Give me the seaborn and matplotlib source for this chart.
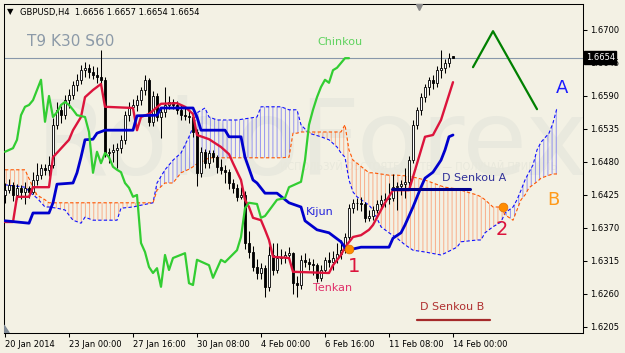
import numpy as np
import pandas as pd
import matplotlib
matplotlib.use("Agg")
import matplotlib.pyplot as plt
from matplotlib.patches import Polygon
import seaborn as sns

# =========================
# Data (GBPUSD H4)
# =========================
bar_open = [1.6425, 1.6433, 1.6442, 1.6425, 1.6437, 1.6430, 1.6437, 1.6430, 1.6450, 1.6458,
            1.6470, 1.6467, 1.6475, 1.6542, 1.6567, 1.6558, 1.6583, 1.6592, 1.6608, 1.6617,
            1.6633, 1.6637, 1.6630, 1.6625, 1.6622, 1.6617, 1.6495, 1.6497, 1.6500, 1.6503,
            1.6517, 1.6558, 1.6572, 1.6575, 1.6583, 1.6600, 1.6617, 1.6547, 1.6590, 1.6555,
            1.6563, 1.6575, 1.6580, 1.6575, 1.6567, 1.6558, 1.6556, 1.6555, 1.6530, 1.6462,
            1.6497, 1.6478, 1.6495, 1.6488, 1.6472, 1.6467, 1.6463, 1.6445, 1.6437, 1.6422,
            1.6425, 1.6345, 1.6330, 1.6305, 1.6295, 1.6303, 1.6272, 1.6325, 1.6300, 1.6320,
            1.6322, 1.6325, 1.6328, 1.6278, 1.6275, 1.6317, 1.6313, 1.6310, 1.6308, 1.6287,
            1.6300, 1.6317, 1.6313, 1.6320, 1.6327, 1.6333, 1.6355, 1.6403, 1.6412, 1.6411,
            1.6410, 1.6387, 1.6390, 1.6400, 1.6410, 1.6417, 1.6418, 1.6420, 1.6438, 1.6440,
            1.6443, 1.6447, 1.6483, 1.6542, 1.6567, 1.6588, 1.6605, 1.6617, 1.6612, 1.6633,
            1.6637, 1.6645, 1.6656]
bar_high = [1.6445, 1.6452, 1.6447, 1.6443, 1.6441, 1.6446, 1.6440, 1.6463, 1.6478, 1.6476,
            1.6477, 1.6490, 1.6553, 1.6580, 1.6573, 1.6592, 1.6602, 1.6615, 1.6626, 1.6642,
            1.6646, 1.6643, 1.6640, 1.6638, 1.6667, 1.6621, 1.6503, 1.6510, 1.6512, 1.6525,
            1.6565, 1.6580, 1.6585, 1.6592, 1.6605, 1.6625, 1.6620, 1.6598, 1.6595, 1.6572,
            1.6605, 1.6590, 1.6585, 1.6582, 1.6575, 1.6572, 1.6565, 1.6560, 1.6535, 1.6505,
            1.6502, 1.6500, 1.6500, 1.6492, 1.6485, 1.6475, 1.6468, 1.6452, 1.6443, 1.6438,
            1.6432, 1.6365, 1.6340, 1.6318, 1.6312, 1.6308, 1.6340, 1.6345, 1.6345, 1.6335,
            1.6332, 1.6338, 1.6330, 1.6290, 1.6325, 1.6328, 1.6320, 1.6318, 1.6312, 1.6308,
            1.6322, 1.6330, 1.6332, 1.6345, 1.6350, 1.6362, 1.6410, 1.6418, 1.6420, 1.6422,
            1.6414, 1.6400, 1.6406, 1.6416, 1.6425, 1.6428, 1.6445, 1.6460, 1.6446, 1.6450,
            1.6470, 1.6490, 1.6550, 1.6572, 1.6595, 1.6610, 1.6622, 1.6625, 1.6640, 1.6667,
            1.6652, 1.6662, 1.6657]
bar_low = [1.6412, 1.6428, 1.6415, 1.6418, 1.6418, 1.6410, 1.6420, 1.6427, 1.6442, 1.6452,
           1.6458, 1.6456, 1.6470, 1.6535, 1.6545, 1.6552, 1.6570, 1.6585, 1.6598, 1.6610,
           1.6622, 1.6620, 1.6618, 1.6612, 1.6610, 1.6488, 1.6478, 1.6480, 1.6470, 1.6495,
           1.6510, 1.6548, 1.6560, 1.6565, 1.6575, 1.6592, 1.6540, 1.6540, 1.6548, 1.6520,
           1.6555, 1.6568, 1.6568, 1.6560, 1.6550, 1.6550, 1.6545, 1.6522, 1.6440, 1.6455,
           1.6470, 1.6470, 1.6480, 1.6462, 1.6460, 1.6445, 1.6435, 1.6428, 1.6415, 1.6418,
           1.6335, 1.6320, 1.6298, 1.6285, 1.6285, 1.6255, 1.6265, 1.6292, 1.6295, 1.6310,
           1.6312, 1.6318, 1.6260, 1.6255, 1.6268, 1.6305, 1.6300, 1.6292, 1.6280, 1.6282,
           1.6295, 1.6305, 1.6300, 1.6312, 1.6318, 1.6328, 1.6350, 1.6395, 1.6400, 1.6398,
           1.6380, 1.6382, 1.6384, 1.6395, 1.6402, 1.6405, 1.6410, 1.6415, 1.6400, 1.6425,
           1.6420, 1.6440, 1.6478, 1.6535, 1.6558, 1.6580, 1.6592, 1.6602, 1.6605, 1.6620,
           1.6628, 1.6638, 1.6654]
bar_close = [1.6433, 1.6442, 1.6425, 1.6437, 1.6430, 1.6437, 1.6430, 1.6450, 1.6458, 1.6470,
             1.6467, 1.6475, 1.6542, 1.6567, 1.6558, 1.6583, 1.6592, 1.6608, 1.6617, 1.6633,
             1.6637, 1.6630, 1.6625, 1.6622, 1.6617, 1.6495, 1.6497, 1.6500, 1.6503, 1.6517,
             1.6558, 1.6572, 1.6575, 1.6583, 1.6600, 1.6617, 1.6547, 1.6590, 1.6555, 1.6563,
             1.6575, 1.6580, 1.6575, 1.6567, 1.6558, 1.6556, 1.6555, 1.6530, 1.6462, 1.6497,
             1.6478, 1.6495, 1.6488, 1.6472, 1.6467, 1.6463, 1.6445, 1.6437, 1.6422, 1.6425,
             1.6345, 1.6330, 1.6305, 1.6295, 1.6303, 1.6272, 1.6325, 1.6300, 1.6320, 1.6322,
             1.6325, 1.6328, 1.6278, 1.6275, 1.6317, 1.6313, 1.6310, 1.6308, 1.6287, 1.6300,
             1.6317, 1.6313, 1.6320, 1.6327, 1.6333, 1.6355, 1.6403, 1.6412, 1.6411, 1.6410,
             1.6387, 1.6390, 1.6400, 1.6410, 1.6417, 1.6418, 1.6420, 1.6438, 1.6440, 1.6443,
             1.6447, 1.6483, 1.6542, 1.6567, 1.6588, 1.6605, 1.6617, 1.6612, 1.6633, 1.6637,
             1.6645, 1.6653, 1.6654]

# Ichimoku lines (bar index, price at the line's corners)
tenkan_bar = [0, 2, 3, 6, 7, 11, 12, 16, 17, 19, 20, 22, 24, 25, 32, 33, 34, 36, 39, 43, 45,
              47, 48, 51, 54, 56, 57, 59, 60, 61, 62, 64, 65, 66, 67, 71, 72, 81, 82, 84, 85,
              87, 89, 91, 92, 94, 95, 97, 101, 102, 105, 107, 109, 112]
tenkan_val = [1.6380, 1.6380, 1.6422, 1.6422, 1.6438, 1.6438, 1.6488, 1.6517, 1.6533, 1.6555,
              1.6588, 1.6600, 1.6610, 1.6572, 1.6570, 1.6533, 1.6555, 1.6560, 1.6577, 1.6578,
              1.6572, 1.6560, 1.6525, 1.6518, 1.6505, 1.6493, 1.6478, 1.6450, 1.6417, 1.6405,
              1.6387, 1.6383, 1.6367, 1.6350, 1.6322, 1.6320, 1.6297, 1.6295, 1.6308, 1.6325,
              1.6338, 1.6355, 1.6358, 1.6367, 1.6375, 1.6400, 1.6412, 1.6433, 1.6433, 1.6455,
              1.6522, 1.6525, 1.6550, 1.6613]

kijun_bar = [0, 6, 7, 11, 12, 13, 17, 18, 19, 20, 22, 23, 25, 32, 33, 38, 39, 47, 48, 49, 55,
             56, 59, 60, 62, 63, 65, 68, 71, 74, 75, 77, 78, 81, 84, 85, 86, 87, 89, 96, 97, 99,
             100, 102, 104, 105, 107, 109, 110, 111, 112]
kijun_val = [1.6382, 1.6378, 1.6395, 1.6395, 1.6412, 1.6443, 1.6445, 1.6462, 1.6488, 1.6517,
             1.6518, 1.6528, 1.6533, 1.6533, 1.6557, 1.6558, 1.6570, 1.6570, 1.6555, 1.6533,
             1.6533, 1.6522, 1.6522, 1.6488, 1.6450, 1.6445, 1.6428, 1.6428, 1.6412, 1.6405,
             1.6382, 1.6372, 1.6367, 1.6362, 1.6347, 1.6337, 1.6330, 1.6335, 1.6338, 1.6338,
             1.6353, 1.6362, 1.6375, 1.6405, 1.6438, 1.6453, 1.6463, 1.6483, 1.6500, 1.6522,
             1.6525]

chinkou_bar = [0, 2, 3, 4, 5, 6, 7, 8, 9, 10, 11, 12, 13, 14, 15, 16, 17, 18, 20, 21, 22, 23,
               24, 25, 26, 27, 28, 29, 30, 31, 32, 33, 34, 35, 36, 37, 38, 39, 40, 41, 42, 45,
               46, 47, 48, 51, 52, 54, 55, 58, 59, 60, 61, 63, 64, 65, 68, 70, 71, 74, 75, 76,
               77, 78, 79, 80, 81, 82, 83, 84, 85, 86]
chinkou_val = [1.6497, 1.6503, 1.6517, 1.6558, 1.6572, 1.6575, 1.6583, 1.6600, 1.6617, 1.6547,
               1.6590, 1.6555, 1.6563, 1.6575, 1.6580, 1.6575, 1.6567, 1.6558, 1.6555, 1.6530,
               1.6462, 1.6497, 1.6478, 1.6495, 1.6488, 1.6472, 1.6467, 1.6463, 1.6445, 1.6437,
               1.6422, 1.6425, 1.6345, 1.6330, 1.6305, 1.6295, 1.6303, 1.6272, 1.6325, 1.6300,
               1.6320, 1.6328, 1.6278, 1.6275, 1.6317, 1.6308, 1.6287, 1.6317, 1.6313, 1.6333,
               1.6355, 1.6403, 1.6412, 1.6410, 1.6387, 1.6390, 1.6417, 1.6420, 1.6438, 1.6447,
               1.6483, 1.6542, 1.6567, 1.6588, 1.6605, 1.6617, 1.6612, 1.6633, 1.6637, 1.6645,
               1.6653, 1.6653]

# cloud: both spans read at the same bars (runs 26 bars ahead of price)
senkou_bar = [0, 5, 7, 8, 10, 11, 13, 15, 17, 19, 20, 22, 28, 29, 32, 34, 37, 38, 40, 42, 44,
              46, 47, 48, 50, 51, 53, 58, 63, 64, 69, 71, 72, 73, 74, 76, 79, 81, 83, 84, 85,
              86, 87, 88, 91, 92, 94, 96, 98, 100, 102, 105, 109, 110, 113, 114, 118, 119, 120,
              122, 124, 125, 127, 128, 129, 130, 131, 132, 133, 134, 136, 137, 138]
senkou_a = [1.6442, 1.6438, 1.6425, 1.6420, 1.6405, 1.6405, 1.6403, 1.6400, 1.6383, 1.6378,
            1.6388, 1.6383, 1.6383, 1.6403, 1.6405, 1.6408, 1.6412, 1.6445, 1.6467, 1.6483,
            1.6495, 1.6522, 1.6538, 1.6562, 1.6570, 1.6555, 1.6550, 1.6550, 1.6555, 1.6572,
            1.6572, 1.6567, 1.6567, 1.6567, 1.6542, 1.6528, 1.6522, 1.6517, 1.6505, 1.6495,
            1.6488, 1.6450, 1.6430, 1.6422, 1.6408, 1.6400, 1.6372, 1.6362, 1.6353, 1.6342,
            1.6333, 1.6330, 1.6325, 1.6328, 1.6338, 1.6347, 1.6350, 1.6350, 1.6362, 1.6372,
            1.6380, 1.6395, 1.6405, 1.6417, 1.6433, 1.6450, 1.6463, 1.6475, 1.6500, 1.6513,
            1.6528, 1.6545, 1.6570]
senkou_b = [1.6467, 1.6467, 1.6438, 1.6425, 1.6417, 1.6412, 1.6412, 1.6412, 1.6412, 1.6412,
            1.6412, 1.6412, 1.6412, 1.6412, 1.6412, 1.6412, 1.6412, 1.6433, 1.6445, 1.6445,
            1.6462, 1.6468, 1.6472, 1.6477, 1.6483, 1.6487, 1.6487, 1.6487, 1.6487, 1.6487,
            1.6487, 1.6488, 1.6528, 1.6528, 1.6530, 1.6530, 1.6530, 1.6530, 1.6530, 1.6530,
            1.6542, 1.6500, 1.6483, 1.6478, 1.6462, 1.6462, 1.6460, 1.6458, 1.6458, 1.6457,
            1.6455, 1.6450, 1.6440, 1.6438, 1.6435, 1.6433, 1.6425, 1.6422, 1.6417, 1.6405,
            1.6405, 1.6392, 1.6383, 1.6400, 1.6417, 1.6425, 1.6437, 1.6442, 1.6447, 1.6453,
            1.6458, 1.6460, 1.6460]

# analyst's drawings
zigzag_bar = [117, 122, 133]
zigzag_val = [1.6638, 1.6698, 1.6568]
signal_bar = [86, 124.5]
signal_val = [1.6335, 1.6405]
d_senkou_a = 1.6435
d_senkou_a_bars = [96.75, 116.25]
d_senkou_b = 1.6217
d_senkou_b_bars = [103, 121.25]

last_price = 1.6654
price_ticks = [1.6205, 1.6260, 1.6315, 1.6370, 1.6425, 1.6480, 1.6535, 1.6590, 1.6645, 1.6700]
time_tick_bars = [0, 16, 32, 48, 64, 80, 96, 112]
time_tick_labels = ["20 Jan 2014", "23 Jan 00:00", "27 Jan 16:00", "30 Jan 08:00",
                    "4 Feb 00:00", "6 Feb 16:00", "11 Feb 08:00", "14 Feb 00:00"]

# =========================
# Style
# =========================
sns.set_theme(style="white")
plt.rcParams["font.family"] = ["DejaVu Sans"]
plt.rcParams["hatch.linewidth"] = 0.7

bg = "#f3f1e4"
fig = plt.figure(figsize=(6.25, 3.53), dpi=100)
fig.patch.set_facecolor(bg)
ax = fig.add_axes([4 / 625, 20 / 353, 579 / 625, 329 / 353])
ax.set_facecolor(bg)

# watermark (very faint)
ax.text(0.054, 0.48, "RoboForex", transform=ax.transAxes, fontsize=76,
        color="#e9e9de", zorder=0.2, va="baseline", clip_on=True)
ax.text(0.477, 0.505, "ИСПОЛЬЗУЙ ОБСТОЯТЕЛЬСТВА — ПОЛУЧАЙ ПРИБЫЛЬ", transform=ax.transAxes,
        fontsize=7, color="#e8e8dc", zorder=0.2, va="center", clip_on=True)

# =========================
# Cloud
# =========================
cloud = pd.DataFrame({"bar": senkou_bar, "a": senkou_a, "b": senkou_b})
ax.fill_between(cloud["bar"], cloud["a"], cloud["b"], where=cloud["b"] >= cloud["a"],
                interpolate=True, facecolor="none", edgecolor="#ff6a30", hatch="||||",
                linewidth=0, alpha=0.5, zorder=1)
ax.fill_between(cloud["bar"], cloud["a"], cloud["b"], where=cloud["a"] > cloud["b"],
                interpolate=True, facecolor="none", edgecolor="#2020ff", hatch="||||",
                linewidth=0, alpha=0.45, zorder=1)
sns.lineplot(data=cloud, x="bar", y="a", ax=ax, color="#1010ff", lw=0.8,
             linestyle=(0, (3, 2)), sort=False, estimator=None, zorder=2)
sns.lineplot(data=cloud, x="bar", y="b", ax=ax, color="#ff5500", lw=0.8,
             linestyle=(0, (3, 2)), sort=False, estimator=None, zorder=2)

# =========================
# Candles
# =========================
bars = pd.DataFrame({"o": bar_open, "h": bar_high, "l": bar_low, "c": bar_close})
bars["bar"] = np.arange(len(bars))
up = bars["c"] >= bars["o"]
ax.vlines(bars["bar"], bars["l"], bars["h"], color="black", lw=0.75, zorder=3)
body_lo = bars[["o", "c"]].min(axis=1)
body_h = (bars["c"] - bars["o"]).abs().clip(lower=0.00008)
ax.bar(bars["bar"][up], body_h[up], bottom=body_lo[up], width=0.72, color="white",
       edgecolor="black", lw=0.6, zorder=3)
ax.bar(bars["bar"][~up], body_h[~up], bottom=body_lo[~up], width=0.72, color="black",
       edgecolor="black", lw=0.6, zorder=3)

# =========================
# Ichimoku lines
# =========================
lines = [
    (tenkan_bar, tenkan_val, "#dc143c", 1.7),
    (kijun_bar, kijun_val, "#0000cd", 2.0),
    (chinkou_bar, chinkou_val, "#32cd32", 1.6),
]
for xs, ys, col, w in lines:
    df = pd.DataFrame({"bar": xs, "price": ys})
    sns.lineplot(data=df, x="bar", y="price", ax=ax, color=col, lw=w,
                 sort=False, estimator=None, zorder=4)

# current price line
ax.axhline(last_price, color="#8898aa", lw=0.8, zorder=2.5)

# =========================
# Drawings and labels
# =========================
zz = pd.DataFrame({"bar": zigzag_bar, "price": zigzag_val})
sns.lineplot(data=zz, x="bar", y="price", ax=ax, color="#008000", lw=1.6,
             sort=False, estimator=None, zorder=5)
ax.plot(d_senkou_a_bars, [d_senkou_a, d_senkou_a], color="#00008b", lw=2.2, zorder=5)
ax.plot(d_senkou_b_bars, [d_senkou_b, d_senkou_b], color="#a52a2a", lw=1.6, zorder=5)
sig = pd.DataFrame({"bar": signal_bar, "price": signal_val})
sns.scatterplot(data=sig, x="bar", y="price", ax=ax, color="#ff8c00", s=40,
                edgecolor="#e07000", linewidth=0.5, zorder=6)

ax.text(83.75, 1.6680, "Chinkou", color="#5fd35f", fontsize=8, ha="center", va="center")
ax.text(78.75, 1.6397, "Kijun", color="#2222dd", fontsize=8, ha="center", va="center")
ax.text(82, 1.6270, "Tenkan", color="#e0306a", fontsize=8, ha="center", va="center")
ax.text(117.2, 1.6453, "D Senkou A", color="#303099", fontsize=8, ha="center", va="center",
        zorder=6)
ax.text(111.8, 1.6238, "D Senkou B", color="#b03030", fontsize=8, ha="center", va="center")
ax.text(87.2, 1.6305, "1", color="#dc143c", fontsize=14, ha="center", va="center")
ax.text(124.3, 1.6367, "2", color="#dc143c", fontsize=14, ha="center", va="center")
ax.text(139.3, 1.6603, "A", color="#1a1aff", fontsize=13, ha="center", va="center")
ax.text(137.0, 1.6416, "B", color="#ff9a1a", fontsize=13, ha="center", va="center")

fig.text(10 / 625, 1 - 12 / 353, "▼", fontsize=6, color="black", ha="center", va="center")
fig.text(20 / 625, 1 - 12 / 353, "GBPUSD,H4  1.6656 1.6657 1.6654 1.6654", fontsize=6,
         color="black", ha="left", va="center")
fig.text(27 / 625, 1 - 41 / 353, "T9 K30 S60", fontsize=11, color="#8c9aa8",
         ha="left", va="center")

# shift markers
ax.plot([(419 - 4) / 579], [0.992], marker="v", ms=5, color="#8a8a8a",
        transform=ax.transAxes, clip_on=False, zorder=7)
ax.add_patch(Polygon([[0, 0], [0.009, 0], [0, 0.024]], closed=True, transform=ax.transAxes,
                     color="#7f8a96", zorder=7))

# =========================
# Axes
# =========================
ax.set_xlim(-0.25, 144.5)
ax.set_ylim(1.6195, 1.67433)
ax.set_xlabel("")
ax.set_ylabel("")
ax.set_xticks(time_tick_bars)
ax.set_xticklabels(time_tick_labels, ha="left")
ax.yaxis.tick_right()
ax.set_yticks(price_ticks)
ax.set_yticklabels([f"{p:.4f}" for p in price_ticks])
ax.tick_params(axis="x", length=3, width=0.75, direction="out", labelsize=6, pad=2,
               colors="black", bottom=True)
ax.tick_params(axis="y", length=3, width=0.75, direction="out", labelsize=6, pad=2,
               colors="black", right=True, left=False)
for s in ax.spines.values():
    s.set_color("black")
    s.set_linewidth(0.75)
if ax.get_legend() is not None:
    ax.get_legend().remove()

# last price box on the scale
ax.text(1.0045, last_price, f"{last_price:.4f}", transform=ax.get_yaxis_transform(),
        fontsize=6, color="white", ha="left", va="center", zorder=10, clip_on=False,
        bbox=dict(boxstyle="square,pad=0.2", facecolor="black", edgecolor="black"))

plt.savefig("out.png", dpi=100, facecolor=bg)
